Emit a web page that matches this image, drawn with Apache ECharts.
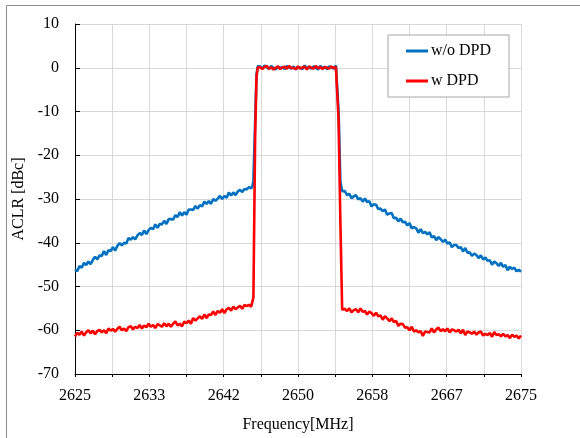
<!DOCTYPE html>
<html>
<head>
<meta charset="utf-8">
<script src="https://cdn.jsdelivr.net/npm/echarts@6/dist/echarts.min.js"></script>
<style>
html,body{margin:0;padding:0;background:#fff;}
#chart{width:580px;height:438px;}
</style>
</head>
<body>
<div id="chart"></div>
<script>
// Frequency sample points [MHz]
const freq = [
2625,2625.25,2625.5,2625.75,2626,2626.25,2626.5,2626.75,2627,2627.25,2627.5,2627.75,2628,2628.25,2628.5,2628.75,2629,2629.25,2629.5,2629.75,
2630,2630.25,2630.5,2630.75,2631,2631.25,2631.5,2631.75,2632,2632.25,2632.5,2632.75,2633,2633.25,2633.5,2633.75,2634,2634.25,2634.5,2634.75,
2635,2635.25,2635.5,2635.75,2636,2636.25,2636.5,2636.75,2637,2637.25,2637.5,2637.75,2638,2638.25,2638.5,2638.75,2639,2639.25,2639.5,2639.75,
2640,2640.25,2640.5,2640.75,2641,2641.25,2641.5,2641.75,2642,2642.25,2642.5,2642.75,2643,2643.25,2643.5,2643.75,2644,2644.25,2644.5,2644.75,
2644.9,2645,2645.2,2645.35,2645.5,
2645.75,2646,2646.25,2646.5,2646.75,2647,2647.25,2647.5,2647.75,2648,2648.25,2648.5,2648.75,2649,2649.25,2649.5,2649.75,
2650,2650.25,2650.5,2650.75,2651,2651.25,2651.5,2651.75,2652,2652.25,2652.5,2652.75,2653,2653.25,2653.5,2653.75,2654,2654.25,
2654.4,2654.55,2654.75,2654.95,
2655.25,2655.5,2655.75,2656,2656.25,2656.5,2656.75,2657,2657.25,2657.5,2657.75,2658,2658.25,2658.5,2658.75,2659,2659.25,2659.5,2659.75,2660,
2660.25,2660.5,2660.75,2661,2661.25,2661.5,2661.75,2662,2662.25,2662.5,2662.75,2663,2663.25,2663.5,2663.75,2664,2664.25,2664.5,2664.75,2665,
2665.25,2665.5,2665.75,2666,2666.25,2666.5,2666.75,2667,2667.25,2667.5,2667.75,2668,2668.25,2668.5,2668.75,2669,2669.25,2669.5,2669.75,2670,
2670.25,2670.5,2670.75,2671,2671.25,2671.5,2671.75,2672,2672.25,2672.5,2672.75,2673,2673.25,2673.5,2673.75,2674,2674.25,2674.5,2674.75,2675
];

// ACLR without DPD [dBc]
const woDPDLower = [
-46.1,-46.5,-45.3,-45.7,-44.6,-45.1,-44.3,-44.9,-43.9,-43.2,
-43.8,-42.9,-43.0,-41.9,-42.8,-41.7,-41.9,-41.0,-41.8,-40.7,
-40.1,-40.6,-40.0,-40.2,-38.9,-39.3,-38.7,-39.2,-38.3,-37.8,
-38.2,-37.2,-38.0,-37.1,-36.6,-36.9,-35.8,-36.6,-35.7,-35.8,
-35.0,-35.7,-34.6,-34.6,-34.7,-33.7,-34.1,-33.0,-33.8,-33.0,
-33.6,-32.4,-32.4,-32.5,-31.6,-32.2,-31.4,-31.7,-30.6,-31.1,
-30.5,-31.1,-30.0,-30.4,-29.9,-29.3,-30.0,-29.3,-29.7,-28.5,
-29.2,-28.5,-29.1,-28.3,-27.9,-28.4,-27.7,-27.8,-27.3,-27.6
];
const woDPDRise = [-27.0,-25.8,-12.0,-1.5,0.4];
const woDPDBand = [0.3,-0.2,0.5,0.1,-0.3,0.4,0.0,-0.4,0.3,-0.1,0.2,-0.3,0.4,0.1,-0.2,0.3,-0.4,0.2,0.0,-0.3,0.5,-0.1,0.2,-0.2,0.3,0.0,-0.4,0.4,-0.1,0.2,-0.3,0.3,0.1,-0.2,0.5];
const woDPDFall = [0.3,-10,-26,-28.2];
const woDPDUpper = [
-28.2,-29.1,-28.8,-29.8,-29.4,-29.1,-30.1,-29.8,-30.6,-29.9,
-30.7,-30.5,-31.7,-31.2,-31.3,-32.3,-32.2,-32.8,-32.4,-33.6,
-33.3,-33.2,-34.4,-34.3,-35.1,-34.5,-35.3,-35.2,-36.0,-35.5,
-36.7,-36.4,-36.7,-37.7,-36.9,-37.8,-37.5,-38.1,-37.6,-38.8,
-38.5,-39.4,-38.7,-39.2,-39.8,-39.3,-40.2,-39.9,-41.0,-40.5,
-40.5,-41.2,-41.0,-42.0,-41.2,-42.3,-42.2,-43.0,-42.5,-42.8,
-43.5,-42.9,-43.8,-43.4,-44.1,-44.0,-45.0,-44.3,-44.7,-45.3,
-44.6,-45.5,-45.1,-46.3,-45.5,-46.0,-45.7,-46.5,-46.2,-46.6
];

// ACLR with DPD [dBc]
const wDPDLower = [
-61.4,-60.6,-61.0,-60.3,-61.2,-60.5,-60.0,-60.7,-60.1,-60.9,
-60.2,-59.9,-60.5,-60.0,-60.7,-59.6,-60.1,-59.7,-60.3,-59.7,
-59.2,-60.0,-59.6,-60.2,-59.3,-59.1,-59.8,-59.2,-59.5,-58.8,
-59.6,-58.9,-59.3,-58.5,-59.2,-58.8,-59.5,-58.6,-58.9,-59.2,
-58.4,-59.1,-58.5,-59.2,-58.5,-58.0,-58.9,-58.5,-59.1,-58.0,
-58.4,-57.8,-58.5,-57.2,-57.8,-57.3,-56.8,-57.4,-56.4,-57.2,
-56.4,-56.5,-55.7,-56.5,-55.6,-56.0,-55.2,-56.1,-55.2,-54.9,
-55.5,-54.6,-55.2,-54.8,-54.4,-55.1,-54.2,-54.5,-54.2,-54.6
];
const wDPDRise = [-54.3,-52.5,-15.0,-2.0,0.1];
const wDPDBand = [0.1,-0.3,0.2,0.4,-0.2,0.1,-0.4,0.0,0.3,-0.3,0.1,0.2,-0.2,0.4,-0.1,0.0,-0.3,0.3,-0.2,0.1,0.2,-0.4,0.3,0.0,-0.2,0.4,-0.1,0.1,-0.3,0.2,0.0,-0.2,0.3,-0.1,0.2];
const wDPDFall = [0.1,-12,-35,-55.3];
const wDPDUpper = [
-55.1,-55.6,-55.0,-55.9,-55.4,-55.2,-55.9,-55.0,-55.8,-55.6,
-56.4,-55.7,-56.1,-56.7,-56.0,-56.8,-56.6,-57.6,-56.8,-57.3,
-57.9,-57.3,-58.1,-57.9,-59.0,-58.5,-58.6,-59.4,-59.3,-60.0,
-59.2,-60.3,-60.0,-60.5,-60.2,-61.3,-60.3,-60.4,-60.5,-59.6,
-60.5,-59.8,-59.4,-60.2,-59.8,-60.2,-59.6,-60.5,-59.8,-60.0,
-60.3,-59.9,-60.7,-59.9,-61.1,-60.3,-60.5,-60.8,-60.3,-61.0,
-60.5,-60.3,-61.2,-60.8,-61.1,-60.6,-61.5,-60.4,-61.1,-60.9,
-61.4,-60.8,-61.4,-61.1,-61.8,-61.0,-61.5,-61.2,-61.9,-61.2
];

const seriesNames = ['w/o DPD', 'w DPD'];
const xMin = 2625, xMax = 2675;
const yMin = -70, yMax = 10;

const woDPD = [].concat(woDPDLower, woDPDRise, woDPDBand, woDPDFall, woDPDUpper);
const wDPD = [].concat(wDPDLower, wDPDRise, wDPDBand, wDPDFall, wDPDUpper);

const FONT = "'Liberation Serif', 'Times New Roman', serif";
const chart = echarts.init(document.getElementById('chart'), null, {renderer: 'canvas'});
chart.setOption({
  animation: false,
  backgroundColor: '#ffffff',
  textStyle: {fontFamily: FONT, color: '#000'},
  graphic: [{
    type: 'rect', silent: true, z: -10,
    shape: {x: 6.5, y: 5.5, width: 700, height: 600},
    style: {fill: 'none', stroke: '#8c8c8c', lineWidth: 1}
  }],
  grid: {left: 75, right: 59, top: 24, bottom: 64, containLabel: false},
  legend: {
    orient: 'vertical',
    left: 388, top: 35,
    padding: [8, 18, 8, 18],
    itemGap: 14,
    itemWidth: 22, itemHeight: 3,
    itemStyle: {borderWidth: 0},
    icon: 'rect',
    backgroundColor: '#fff',
    borderColor: '#a6a6a6', borderWidth: 1,
    textStyle: {fontFamily: FONT, fontSize: 16, color: '#000', padding: [0,0,0,-2], lineHeight: 16},
    data: seriesNames
  },
  xAxis: {
    type: 'value', min: xMin, max: xMax, interval: (xMax - xMin) / 12,
    name: 'Frequency[MHz]', nameLocation: 'middle', nameGap: 43,
    nameTextStyle: {fontFamily: FONT, fontSize: 16, color: '#000'},
    axisLine: {show: true, onZero: false, lineStyle: {color: '#000', width: 1}},
    axisTick: {show: true, inside: false, length: 3, lineStyle: {color: '#000'}},
    axisLabel: {
      fontFamily: FONT, fontSize: 16, color: '#000', margin: 14, showMaxLabel: true,
      formatter: function (v, i) { return i % 2 === 0 ? String(Math.round(v)) : ''; }
    },
    splitLine: {show: true, lineStyle: {color: '#d9d9d9', width: 1}}
  },
  yAxis: {
    type: 'value', min: yMin, max: yMax, interval: 10,
    name: 'ACLR [dBc]', nameLocation: 'middle', nameGap: 46, nameRotate: 90,
    nameTextStyle: {fontFamily: FONT, fontSize: 16, color: '#000'},
    axisLine: {show: true, lineStyle: {color: '#000', width: 1}},
    axisTick: {show: true, inside: true, length: 5, lineStyle: {color: '#000'}},
    axisLabel: {fontFamily: FONT, fontSize: 16, color: '#000', margin: 16},
    splitLine: {show: true, lineStyle: {color: '#d9d9d9', width: 1}}
  },
  series: [
    {
      name: seriesNames[0], type: 'line', showSymbol: false, symbol: 'none',
      data: freq.map((f, i) => [f, woDPD[i]]),
      lineStyle: {color: '#0070c0', width: 2.6},
      itemStyle: {color: '#0070c0'},
      z: 2
    },
    {
      name: seriesNames[1], type: 'line', showSymbol: false, symbol: 'none',
      data: freq.map((f, i) => [f, wDPD[i]]),
      lineStyle: {color: '#ff0000', width: 2.6},
      itemStyle: {color: '#ff0000'},
      z: 3
    }
  ]
});
</script>
</body>
</html>
